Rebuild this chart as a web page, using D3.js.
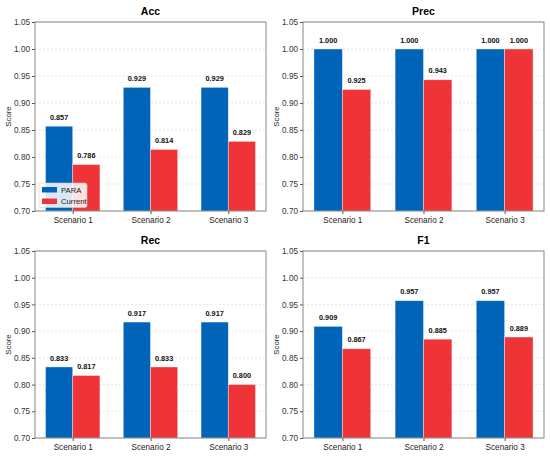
<!DOCTYPE html>
<html>
<head>
<meta charset="utf-8">
<script src="https://cdn.jsdelivr.net/npm/d3@7"></script>
<style>
  body { margin: 0; background: #fff; }
  svg { font-family: "Liberation Sans", Arial, sans-serif; }
</style>
</head>
<body>
<div id="chart"></div>
<script>
// chart values
const metrics = ["Acc", "Prec", "Rec", "F1"];
const scenarios = ["Scenario 1", "Scenario 2", "Scenario 3"];
const seriesNames = ["PARA", "Current"];
const accPara = [0.857, 0.929, 0.929];
const accCurrent = [0.786, 0.814, 0.829];
const precPara = [1.000, 1.000, 1.000];
const precCurrent = [0.925, 0.943, 1.000];
const recPara = [0.833, 0.917, 0.917];
const recCurrent = [0.817, 0.833, 0.800];
const f1Para = [0.909, 0.957, 0.957];
const f1Current = [0.867, 0.885, 0.889];
const yTicks = [0.70, 0.75, 0.80, 0.85, 0.90, 0.95, 1.00, 1.05];

const paraByMetric = [accPara, precPara, recPara, f1Para];
const currentByMetric = [accCurrent, precCurrent, recCurrent, f1Current];

const W = 550, H = 457;
const COLORS = ["#0064b8", "#ef3438"];
const BAR_W = 0.35;

// panel boxes [left, right, top, bottom]
const panels = [
    [35, 266, 22, 211],
    [303, 544, 22, 211],
    [35, 266, 251, 438],
    [303, 544, 251, 438]
];

var svg = d3.select("#chart").append("svg")
    .attr("width", W)
    .attr("height", H);

metrics.forEach((m, k) => {
    const [l, r, t, b] = panels[k];
    const g = svg.append("g");

    var x = d3.scaleLinear()
        .domain([-BAR_W - 0.135, scenarios.length - 1 + BAR_W + 0.135])
        .range([l, r]);
    var y = d3.scaleLinear()
        .domain([0.70, 1.05])
        .range([b, t]);

    // grid
    g.append("g")
        .selectAll("line")
        .data(yTicks)
        .enter()
        .append("line")
        .attr("x1", l).attr("x2", r)
        .attr("y1", d => y(d)).attr("y2", d => y(d))
        .attr("stroke", "#d4d4d4")
        .attr("stroke-width", 0.6)
        .attr("stroke-dasharray", "2,2");

    // bars
    const rows = [];
    scenarios.forEach((s, i) => {
        rows.push({s: 0, i: i, v: paraByMetric[k][i]});
        rows.push({s: 1, i: i, v: currentByMetric[k][i]});
    });

    g.append("g")
        .selectAll("rect")
        .data(rows)
        .enter()
        .append("rect")
        .attr("x", d => x(d.i - BAR_W + d.s * BAR_W))
        .attr("width", d => x(BAR_W) - x(0))
        .attr("y", d => y(d.v))
        .attr("height", d => y(0.70) - y(d.v))
        .attr("fill", d => COLORS[d.s])
        .attr("stroke", "#ffffff")
        .attr("stroke-opacity", 0.55)
        .attr("stroke-width", 0.7);

    // value labels
    g.append("g")
        .selectAll("text")
        .data(rows)
        .enter()
        .append("text")
        .attr("x", d => x(d.i - BAR_W / 2 + d.s * BAR_W))
        .attr("y", d => y(d.v + 0.01) - 1)
        .attr("text-anchor", "middle")
        .style("font-size", "7.3px")
        .style("font-weight", "bold")
        .attr("fill", "#111")
        .text(d => d.v.toFixed(3));

    // y axis
    const yAxis = g.append("g")
        .attr("transform", "translate(" + l + ",0)")
        .call(d3.axisLeft(y).tickValues(yTicks).tickSize(3).tickPadding(2).tickFormat(d3.format(".2f")));
    yAxis.select(".domain").remove();
    yAxis.selectAll("line").attr("stroke", "#555");
    yAxis.selectAll("text").style("font-size", "8.2px").attr("fill", "#333")
        .style("font-family", "'Liberation Sans', Arial, sans-serif");

    // x axis
    const xAxis = g.append("g")
        .attr("transform", "translate(0," + b + ")")
        .call(d3.axisBottom(x).tickValues(d3.range(scenarios.length)).tickSize(3).tickPadding(3)
            .tickFormat(i => scenarios[i]));
    xAxis.select(".domain").remove();
    xAxis.selectAll("line").attr("stroke", "#555");
    xAxis.selectAll("text").style("font-size", "8.2px").attr("fill", "#222")
        .style("font-family", "'Liberation Sans', Arial, sans-serif");

    // frame
    g.append("rect")
        .attr("x", l).attr("y", t)
        .attr("width", r - l).attr("height", b - t)
        .attr("fill", "none")
        .attr("stroke", "#7a7a7a")
        .attr("stroke-width", 0.9);

    // title
    g.append("text")
        .attr("x", (l + r) / 2)
        .attr("y", t - 7)
        .attr("text-anchor", "middle")
        .style("font-size", "10.5px")
        .style("font-weight", "bold")
        .attr("fill", "#000")
        .text(m);

    // y label
    g.append("g")
        .attr("transform", "translate(" + (l - 24) + "," + ((t + b) / 2) + ")")
        .append("text")
        .attr("transform", "rotate(-90)")
        .attr("text-anchor", "middle")
        .style("font-size", "7.8px")
        .attr("fill", "#222")
        .text("Score");

    // legend only in the first panel
    if (k == 0) {
        const lg = g.append("g").attr("transform", "translate(39,183)");
        lg.append("rect")
            .attr("width", 48).attr("height", 24.5)
            .attr("rx", 2).attr("ry", 2)
            .attr("fill", "#fff").attr("fill-opacity", 0.85)
            .attr("stroke", "#d0d0d0").attr("stroke-width", 0.6);
        seriesNames.forEach((n, j) => {
            lg.append("rect")
                .attr("x", 3).attr("y", 4 + j * 11.5)
                .attr("width", 15).attr("height", 5.5)
                .attr("fill", COLORS[j]);
            lg.append("text")
                .attr("x", 22).attr("y", 9.5 + j * 11.5)
                .style("font-size", "7.7px")
                .attr("fill", "#222")
                .text(n);
        });
    }
});
</script>
</body>
</html>
